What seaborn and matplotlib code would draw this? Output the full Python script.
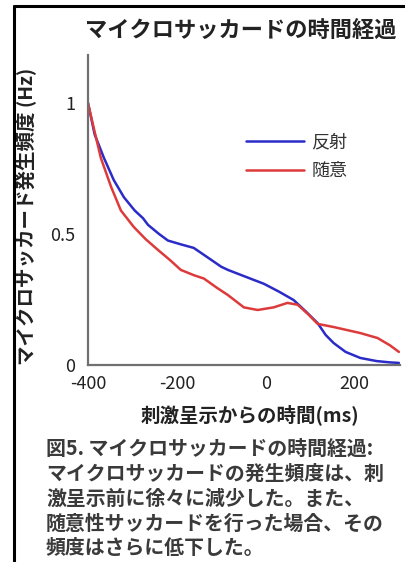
import pandas as pd
import matplotlib.pyplot as plt
import seaborn as sns
from matplotlib.lines import Line2D

# time from stimulus onset (ms) and microsaccade rate (Hz)
reflex_t = [-400, -385, -364, -342, -319, -295, -276, -265, -240, -220, -190, -162,
            -130, -100, -85, -50, -4, 30, 63, 90, 117, 135, 153, 180, 213, 250, 280, 300]
reflex_rate = [1.0, 0.88, 0.79, 0.706, 0.64, 0.59, 0.56, 0.535, 0.50, 0.475, 0.46, 0.447,
               0.41, 0.375, 0.363, 0.34, 0.31, 0.28, 0.248, 0.205, 0.16, 0.115, 0.084,
               0.05, 0.027, 0.015, 0.01, 0.008]

volun_t = [-400, -385, -371, -348, -337, -326, -297, -270, -243, -215, -191, -162,
           -139, -110, -85, -49, -18, 18, 49, 72, 95, 117, 153, 213, 252, 280, 300]
volun_rate = [1.0, 0.89, 0.79, 0.68, 0.635, 0.59, 0.527, 0.48, 0.44, 0.40, 0.363, 0.343,
              0.33, 0.295, 0.267, 0.22, 0.21, 0.22, 0.237, 0.23, 0.195, 0.157, 0.145,
              0.122, 0.103, 0.075, 0.05]

series_names = ['反射', '随意']
x_ticks = [-400, -200, 0, 200]
y_ticks = [0, 0.5, 1]
y_tick_labels = ['0', '0.5', '1']

df = pd.concat([
    pd.DataFrame({'t': reflex_t, 'rate': reflex_rate, 'cond': series_names[0]}),
    pd.DataFrame({'t': volun_t, 'rate': volun_rate, 'cond': series_names[1]}),
])

sns.set_style("white")
plt.rcParams['font.family'] = ['Noto Sans CJK JP', 'DejaVu Sans']
plt.rcParams['axes.unicode_minus'] = False

fig = plt.figure(figsize=(4.06, 5.62), dpi=100)
ax = fig.add_axes([0.2167, 0.3505, 0.768, 0.5516])

sns.lineplot(data=df, x='t', y='rate', hue='cond', palette=['#2b2bc8', '#dd3b3b'],
             linewidth=1.8, ax=ax, sort=False)

ax.set_xlim(-400, 302)
ax.set_ylim(0, 1.183)
ax.set_xticks(x_ticks)
ax.set_yticks(y_ticks, y_tick_labels)
for s in ['top', 'right']:
    ax.spines[s].set_visible(False)
for s in ['left', 'bottom']:
    ax.spines[s].set_color('#707070')
    ax.spines[s].set_linewidth(1.6)
ax.tick_params(axis='x', direction='in', length=3, width=1.2, color='#707070',
               labelsize=13, pad=7, labelcolor='#222222')
ax.tick_params(axis='y', length=0, labelsize=13, pad=9, labelcolor='#222222')

ax.set_xlabel('刺激呈示からの時間(ms)', fontsize=14, fontweight='bold', color='#222222')
ax.xaxis.set_label_coords(0.52, -0.125)
ax.set_ylabel('マイクロサッカード発生頻度 (Hz)', fontsize=14, fontweight='bold', color='#222222')
ax.yaxis.set_label_coords(-0.165, 0.48)

ax.legend(title=None, frameon=False, loc='upper left', bbox_to_anchor=(0.455, 0.80),
          fontsize=13, handlelength=3.2, handletextpad=0.4, labelspacing=0.6,
          labelcolor='#333333')

fig.text(241 / 406, 1 - 30 / 562, 'マイクロサッカードの時間経過', ha='center', va='center',
         fontsize=16, fontweight='bold', color='#222222')

caption = ['図5. マイクロサッカードの時間経過:',
           'マイクロサッカードの発生頻度は、刺',
           '激呈示前に徐々に減少した。また、',
           '随意性サッカードを行った場合、その',
           '頻度はさらに低下した。']
for i, line in enumerate(caption):
    fig.text(46 / 406, 1 - (448 + 25 * i) / 562, line, ha='left', va='center',
             fontsize=14.3, fontweight='bold', color='#3a3a3a')

# black frame on the left and top edges
fig.add_artist(Line2D([14 / 406, 14 / 406], [0, 1 - 6 / 562], color='black', linewidth=2.2,
                      transform=fig.transFigure))
fig.add_artist(Line2D([14 / 406, 1], [1 - 6 / 562, 1 - 6 / 562], color='black', linewidth=2.2,
                      transform=fig.transFigure))

fig.savefig('out.png', dpi=100)
